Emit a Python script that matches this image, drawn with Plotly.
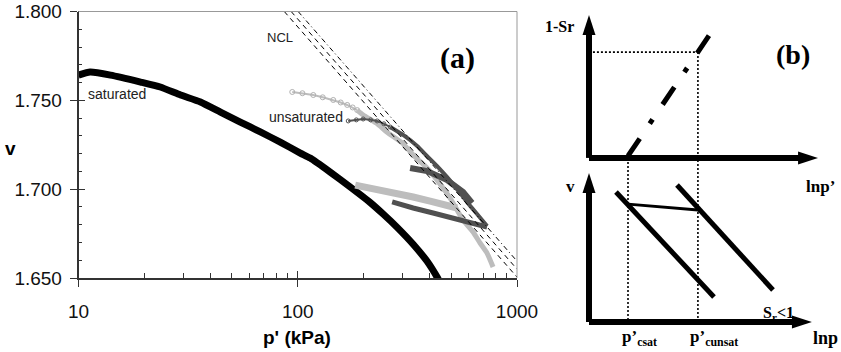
import math
import plotly.graph_objects as go

# ---------------- Panel (a) data : v vs p' (kPa) ----------------
sat_p = [10.0, 11.3, 14.0, 19.2, 23.6, 29.2, 36.0, 44.4, 54.7, 67.5, 83.2, 102.7, 114.0,
         140.6, 173.5, 213.9, 245.2, 284.0, 336.0, 389.0, 432.1, 445.0]
sat_v = [1.7642, 1.7659, 1.7642, 1.7603, 1.7575, 1.7530, 1.7491, 1.7434, 1.7378, 1.7322,
         1.7265, 1.7203, 1.7175, 1.7096, 1.7012, 1.6925, 1.6860, 1.6785, 1.6690, 1.6594,
         1.6505, 1.6475]

lg_start_p = [94.4, 105.0, 117.7, 130.0, 145.2, 157.0, 168.1, 178.0, 186.7]
lg_start_v = [1.7547, 1.7540, 1.7530, 1.7517, 1.7502, 1.7488, 1.7474, 1.7460, 1.7445]
lg_load_p = [186.7, 198.8, 228.0, 258.4, 299.3, 343.1, 384.9, 432.1, 495.2, 532.9, 567.6,
             630.5, 678.5, 730.2, 777.6]
lg_load_v = [1.7445, 1.7417, 1.7372, 1.7316, 1.7260, 1.7181, 1.7125, 1.7051, 1.6950, 1.6883,
             1.6826, 1.6759, 1.6697, 1.6640, 1.6562]
lg_loop_p = [532.9, 480.0, 401.6, 336.0, 278.0, 237.6, 203.0, 182.8]
lg_loop_v = [1.6894, 1.6911, 1.6933, 1.6956, 1.6978, 1.6995, 1.7012, 1.7023]

dk_start_p = [169.9, 185.0, 198.8, 215.0, 230.2, 247.0, 264.0]
dk_start_v = [1.7384, 1.7390, 1.7395, 1.7390, 1.7384, 1.7368, 1.7350]
dk_load_p = [264.0, 302.4, 350.4, 389.1, 432.1, 479.9, 532.9, 592.0, 657.4, 730.2]
dk_load_v = [1.7350, 1.7305, 1.7243, 1.7186, 1.7130, 1.7068, 1.7000, 1.6927, 1.6860, 1.6792]
dk_reload_p = [325.5, 389.1, 479.9, 567.5, 623.7]
dk_reload_v = [1.7119, 1.7102, 1.7051, 1.6984, 1.6922]
dk_unload_p = [730.2, 630.4, 510.9, 414.3, 336.0, 269.5]
dk_unload_v = [1.6787, 1.6809, 1.6837, 1.6866, 1.6894, 1.6928]

# NCL lines (end points)
ncl_a_p = [86.8, 1000.0]
ncl_a_v = [1.800, 1.6505]
ncl_b_p = [93.3, 1000.0]
ncl_b_v = [1.800, 1.6550]
ncl_c_p = [100.4, 1000.0]
ncl_c_v = [1.800, 1.6595]

x_tickvals = [10, 100, 1000]
x_ticktext = ["10", "100", "1000"]
x_minor = [20, 30, 40, 50, 60, 70, 80, 90, 200, 300, 400, 500, 600, 700, 800, 900]
y_tickvals = [1.65, 1.70, 1.75, 1.80]

# ---------------- Panel (b) schematic (arbitrary units) ----------------
top_vax_x, top_vax_y = [0, 0], [5.86, 10.96]
top_hax_x, top_hax_y = [0, 8.18], [5.86, 5.86]
bot_vax_x, bot_vax_y = [0, 0], [0.0, 5.32]
bot_hax_x, bot_hax_y = [0, 7.96], [0.0, 0.0]
sr_line_x, sr_line_y = [1.393, 4.34], [5.93, 10.31]
dot_h_x, dot_h_y = [0.14, 3.89], [9.64, 9.64]
dot_v1_x, dot_v1_y = [1.393, 1.393], [5.86, 0.1]
dot_v2_x, dot_v2_y = [3.89, 3.89], [9.64, 0.1]
ncl_sat_x, ncl_sat_y = [0.964, 4.464], [4.643, 0.893]
ncl_unsat_x, ncl_unsat_y = [3.143, 6.571], [4.893, 1.143]
link_x, link_y = [1.393, 3.89], [4.21, 4.0]

fig = go.Figure()

def A(x, y, xa="x", ya="y", **kw):
    fig.add_trace(go.Scatter(x=x, y=y, xaxis=xa, yaxis=ya, showlegend=False,
                             hoverinfo="skip", **kw))

def B(x, y, **kw):
    fig.add_trace(go.Scatter(x=x, y=y, xaxis="x2", yaxis="y2", showlegend=False,
                             hoverinfo="skip", **kw))

LG = "#bdbdbd"
DK = "#505050"

A(sat_p, sat_v, mode="lines", line=dict(color="black", width=7, shape="spline", smoothing=0.5))
A(lg_start_p, lg_start_v, mode="lines+markers", line=dict(color=LG, width=2),
  marker=dict(symbol="circle-open", size=5, color="#b0b0b0", line=dict(width=1)))
A(lg_load_p, lg_load_v, mode="lines", line=dict(color=LG, width=5, shape="spline", smoothing=0.4))
A(lg_loop_p, lg_loop_v, mode="lines", line=dict(color=LG, width=7))
A(dk_start_p, dk_start_v, mode="lines+markers", line=dict(color=DK, width=2),
  marker=dict(symbol="circle-open", size=4, color=DK, line=dict(width=1)))
A(dk_load_p, dk_load_v, mode="lines", line=dict(color=DK, width=4, shape="spline", smoothing=0.4))
A(dk_reload_p, dk_reload_v, mode="lines", line=dict(color=DK, width=6))
A(dk_unload_p, dk_unload_v, mode="lines", line=dict(color=DK, width=5))
A(ncl_a_p, ncl_a_v, mode="lines", line=dict(color="black", width=1, dash="5px,4px"))
A(ncl_b_p, ncl_b_v, mode="lines", line=dict(color="black", width=1, dash="5px,4px"))
A(ncl_c_p, ncl_c_v, mode="lines", line=dict(color="black", width=1, dash="5px,3px,1px,3px"))
# empty traces to register the overlay tick axes
A([10], [1.70], xa="x3", ya="y", mode="none")
A([10], [1.70], xa="x", ya="y3", mode="none")

# panel (b)
for xs, ys in [(dot_h_x, dot_h_y), (dot_v1_x, dot_v1_y), (dot_v2_x, dot_v2_y)]:
    B(xs, ys, mode="lines", line=dict(color="black", width=1.6, dash="2px,2px"))
B(sr_line_x, sr_line_y, mode="lines", line=dict(color="black", width=5, dash="21px,18px,5px,18px"))
B(ncl_sat_x, ncl_sat_y, mode="lines", line=dict(color="black", width=5))
B(ncl_unsat_x, ncl_unsat_y, mode="lines", line=dict(color="black", width=5))
B(link_x, link_y, mode="lines", line=dict(color="black", width=3))
for xs, ys in [(top_vax_x, top_vax_y), (top_hax_x, top_hax_y),
               (bot_vax_x, bot_vax_y), (bot_hax_x, bot_hax_y)]:
    B(xs, ys, mode="lines+markers", line=dict(color="black", width=6),
      marker=dict(symbol="arrow", angleref="previous", size=[0, 21], color="black",
                  opacity=1, line=dict(width=0, color="black")))

ann = []
sans = "Liberation Sans, Arial, sans-serif"
serif = "Liberation Serif, Times New Roman, serif"
def ta(text, x, y, xref, yref, size, family, xanchor="center", color="black"):
    ann.append(dict(text=text, x=x, y=y, xref=xref, yref=yref, showarrow=False,
                    xanchor=xanchor, yanchor="middle", font=dict(size=size, family=family, color=color)))

ta("saturated", math.log10(10.8), 1.7536, "x", "y", 14, sans, "left", "#222")
ta("unsaturated", math.log10(72.6), 1.7406, "x", "y", 14, sans, "left", "#222")
ta("NCL", math.log10(83.2), 1.7851, "x", "y", 13, sans, "center", "#222")
ta("<b>(a)</b>", math.log10(538), 1.7738, "x", "y", 30, serif)
ta("<b>p' (kPa)</b>", 297/841, 1-337/352, "paper", "paper", 19, sans)
ta("<b>v</b>", 10/841, 1-148/352, "paper", "paper", 19, sans)

ta("<b>1-Sr</b>", -1.071, 10.536, "x2", "y2", 16, serif)
ta("<b>(b)</b>", 7.286, 9.571, "x2", "y2", 28, serif)
ta("<b>lnp’</b>", 8.25, 4.857, "x2", "y2", 17, serif)
ta("<b>v</b>", -0.643, 4.857, "x2", "y2", 17, serif)
ta("<b>S<sub>r</sub><1</b>", 6.75, 0.30, "x2", "y2", 16, serif)
ta("<b>p’<sub>csat</sub></b>", 1.786, -0.571, "x2", "y2", 17, serif)
ta("<b>p’<sub>cunsat</sub></b>", 4.464, -0.571, "x2", "y2", 17, serif)
ta("<b>lnp</b>", 8.43, -0.571, "x2", "y2", 18, serif)

xdom = [78.5/841, 517/841]
ydom = [1-278/352, 1-11.5/352]

fig.update_layout(
    template="none",
    width=841, height=352, margin=dict(l=0, r=0, t=0, b=0, pad=0),
    paper_bgcolor="white", plot_bgcolor="white",
    font=dict(family=sans, color="#111"),
    xaxis=dict(domain=xdom, type="log", range=[1, 3], anchor="y",
               automargin=False,
               tickmode="array", tickvals=x_tickvals, ticktext=x_ticktext,
               ticks="outside", ticklen=7, tickcolor="#333", tickwidth=1.2,
               showgrid=False, zeroline=False, showline=True, linecolor="#333", linewidth=1.5,
               tickfont=dict(size=19, family=sans, color="#111"), ticklabelstandoff=8,
               minor=dict(tickmode="array", tickvals=x_minor, ticks="inside", ticklen=5,
                          tickcolor="#333", tickwidth=1, showgrid=False)),
    xaxis3=dict(domain=xdom, type="log", range=[1, 3], anchor="y", overlaying="x",
                automargin=False, tickmode="array", tickvals=x_tickvals,
                ticks="inside", ticklen=7, tickcolor="#333", tickwidth=1.2,
                showticklabels=False, showgrid=False, zeroline=False, showline=False),
    yaxis=dict(domain=ydom, range=[1.65, 1.80], anchor="x",
               automargin=False,
               tickmode="array", tickvals=y_tickvals, tickformat=".3f",
               ticks="outside", ticklen=7, tickcolor="#333", tickwidth=1.2,
               showgrid=False, zeroline=False, showline=True, linecolor="#333", linewidth=1.5,
               tickfont=dict(size=19, family=sans, color="#111"), ticklabelstandoff=4,
               minor=dict(dtick=0.01, tick0=1.65, ticks="inside", ticklen=4,
                          tickcolor="#333", tickwidth=1, showgrid=False)),
    yaxis3=dict(domain=ydom, range=[1.65, 1.80], anchor="x", overlaying="y",
                automargin=False, tickmode="array", tickvals=y_tickvals,
                ticks="inside", ticklen=6, tickcolor="#333", tickwidth=1.2,
                showticklabels=False, showgrid=False, zeroline=False, showline=False),
    xaxis2=dict(domain=[530/841, 1.0], range=[-2.107, 9.0], anchor="y2", visible=False,
                automargin=False),
    yaxis2=dict(domain=[0, 1], range=[-1.0714, 11.5], anchor="x2", visible=False,
                automargin=False),
    annotations=ann,
    shapes=[
        dict(type="line", xref="x domain", yref="y domain", x0=0, x1=1, y0=1, y1=1,
             line=dict(color="#999", width=1)),
        dict(type="line", xref="x domain", yref="y domain", x0=1, x1=1, y0=0, y1=1,
             line=dict(color="#999", width=1)),
    ],
)

fig.write_html("out.html")
